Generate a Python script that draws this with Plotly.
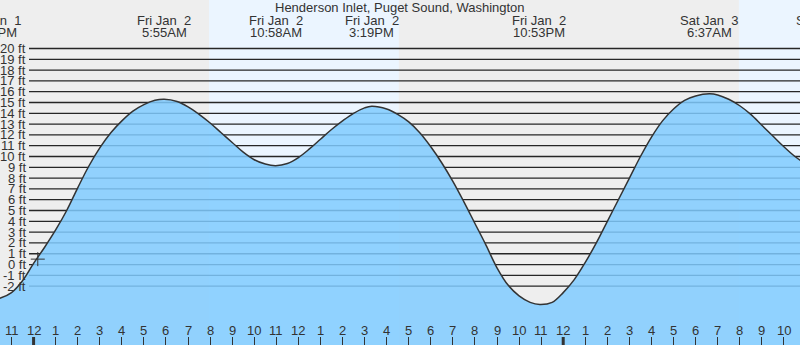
import plotly.graph_objects as go

# ---------------- data (hours from midnight Fri Jan 2, feet) ----------------
hours = [-2.0, -1.5, -1.0, -0.5, 0.0, 0.5, 1.0, 1.5, 2.0, 2.5, 3.0, 3.5, 4.0, 4.5,
         5.0, 5.5, 5.92, 6.5, 7.0, 7.5, 8.0, 8.5, 9.0, 9.5, 10.0, 10.5, 10.97,
         11.5, 12.0, 12.5, 13.0, 13.5, 14.0, 14.5, 15.0, 15.32, 16.0, 16.5, 17.0,
         17.5, 18.0, 18.5, 19.0, 19.5, 20.0, 20.5, 21.0, 21.5, 22.0, 22.5, 22.94,
         23.5, 24.0, 24.5, 25.0, 25.5, 26.0, 26.5, 27.0, 27.5, 28.0, 28.5, 29.0,
         29.5, 30.0, 30.62, 31.0, 31.5, 32.0, 32.5, 33.0, 33.5, 34.0, 34.5, 35.0]
heights = [-3.3, -3.1, -2.6, -1.5, 0.1, 1.6, 3.2, 5.0, 7.1, 9.1, 10.8, 12.2, 13.3, 14.2,
           14.8, 15.2, 15.3, 15.1, 14.6, 13.9, 13.1, 12.2, 11.3, 10.4, 9.7, 9.3, 9.15,
           9.35, 9.9, 10.7, 11.6, 12.5, 13.3, 14.0, 14.5, 14.65, 14.4, 13.9, 13.2,
           12.2, 10.9, 9.4, 7.7, 5.8, 3.8, 1.8, -0.3, -1.9, -2.9, -3.5, -3.7,
           -3.5, -2.6, -1.4, 0.2, 2.0, 4.0, 6.0, 8.0, 10.0, 11.8, 13.3, 14.4,
           15.2, 15.6, 15.8, 15.7, 15.3, 14.7, 13.9, 12.9, 11.9, 10.9, 10.0, 9.3]

event_hours = [-1.95, 5.917, 10.967, 15.317, 22.883, 30.617, 35.9]
event_days = ["Thu Jan  1", "Fri Jan  2", "Fri Jan  2", "Fri Jan  2", "Fri Jan  2",
              "Sat Jan  3", "Sat Jan  3"]
event_times = ["10:03PM", "5:55AM", "10:58AM", "3:19PM", "10:53PM", "6:37AM", "11:56AM"]

daylight_start = [7.95, 31.96]
daylight_end = [16.55, 40.6]

ft_levels = list(range(-2, 21))
ft_labels = [f"{v} ft" for v in ft_levels]

hour_ticks = list(range(-1, 35))
hour_labels = ["11", "12", "1", "2", "3", "4", "5", "6", "7", "8", "9", "10", "11",
               "12", "1", "2", "3", "4", "5", "6", "7", "8", "9", "10", "11",
               "12", "1", "2", "3", "4", "5", "6", "7", "8", "9", "10"]
midnights = [0, 24]

now_hour = [0.19]
now_height = [0.5]

title = "Henderson Inlet, Puget Sound, Washington"

# ---------------- layout constants ----------------
W, H = 800, 345
X_RANGE = [-1.522, 34.73]
Y_RANGE = [-7.45, 24.49]
FONT = "Liberation Sans, Arial, sans-serif"
TXT = "#333333"
NIGHT = "#EEEEEE"
DAY = "#EBF5FF"


def xp(t):
    return (t - X_RANGE[0]) / (X_RANGE[1] - X_RANGE[0])


def yp(px):
    return 1 - px / H


def nb(s):
    return s.replace("  ", " \u00a0")


fig = go.Figure()

# baseline for fill down to the bottom of the plot
fig.add_trace(go.Scatter(x=hours, y=[Y_RANGE[0]] * len(hours), mode="lines",
                         line=dict(width=0, color="rgba(0,0,0,0)"),
                         hoverinfo="skip", showlegend=False))
fig.add_trace(go.Scatter(x=hours, y=heights, mode="lines",
                         line=dict(color="#333333", width=1.5, shape="spline", smoothing=1),
                         fill="tonexty", fillcolor="rgba(128,203,255,0.85)",
                         showlegend=False))
fig.add_trace(go.Scatter(x=now_hour, y=now_height, mode="markers",
                         marker=dict(symbol="cross-thin", size=10,
                                     line=dict(color="#333333", width=1)),
                         showlegend=False))

shapes = []
for a, b in zip(daylight_start, daylight_end):
    shapes.append(dict(type="rect", xref="x", yref="paper", x0=a, x1=b, y0=0, y1=1,
                       fillcolor=DAY, line=dict(width=0), layer="below"))
for v in ft_levels:
    shapes.append(dict(type="line", xref="paper", yref="y", x0=29 / W, x1=1, y0=v, y1=v,
                       line=dict(color="#262626", width=1.3), layer="below"))
for m in midnights:
    shapes.append(dict(type="line", xref="x", yref="paper", x0=m, x1=m, y0=0, y1=8 / H,
                       line=dict(color="#333333", width=3), layer="above"))

annotations = [dict(text=title, xref="paper", yref="paper", x=0.5, y=yp(7.5),
                    xanchor="center", yanchor="middle", showarrow=False,
                    font=dict(family=FONT, size=13, color=TXT))]
for v, lab in zip(ft_levels, ft_labels):
    annotations.append(dict(text=lab, xref="paper", yref="y", x=28 / W, y=v,
                            xanchor="right", yanchor="middle", showarrow=False,
                            font=dict(family=FONT, size=13, color=TXT)))
for t, d, tm in zip(event_hours, event_days, event_times):
    annotations.append(dict(text=nb(d), xref="paper", yref="paper", x=xp(t), y=yp(20),
                            xanchor="center", yanchor="middle", showarrow=False,
                            font=dict(family=FONT, size=13, color=TXT)))
    annotations.append(dict(text=tm, xref="paper", yref="paper", x=xp(t), y=yp(32),
                            xanchor="center", yanchor="middle", showarrow=False,
                            font=dict(family=FONT, size=13, color=TXT)))
for t, lab in zip(hour_ticks, hour_labels):
    annotations.append(dict(text=lab, xref="x", yref="paper", x=t, y=yp(330.5),
                            xanchor="center", yanchor="middle", showarrow=False,
                            font=dict(family=FONT, size=13, color=TXT)))

fig.update_layout(
    width=W, height=H, margin=dict(l=0, r=0, t=0, b=0, pad=0),
    paper_bgcolor=NIGHT, plot_bgcolor=NIGHT,
    xaxis=dict(range=X_RANGE, showgrid=False, zeroline=False, showline=False,
               tickvals=hour_ticks, ticks="inside", ticklen=8, tickwidth=1,
               tickcolor="#333333", showticklabels=False, fixedrange=True),
    yaxis=dict(range=Y_RANGE, showgrid=False, zeroline=False, showline=False,
               showticklabels=False, ticks="", fixedrange=True),
    shapes=shapes, annotations=annotations, showlegend=False,
)

fig.write_html("out.html", config={"displayModeBar": False})
